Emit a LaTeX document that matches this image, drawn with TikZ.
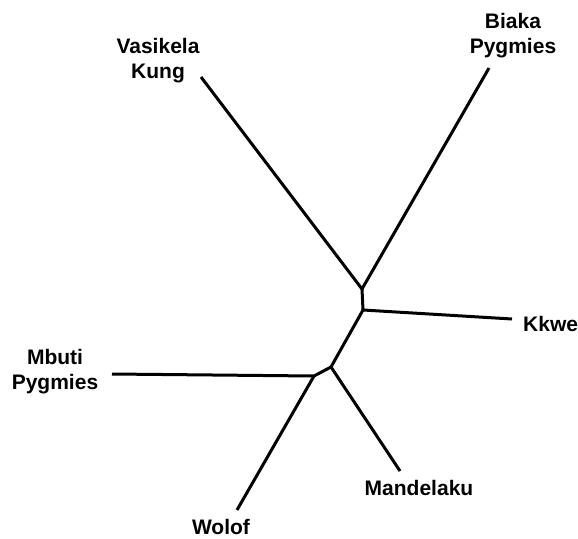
\documentclass[tikz,border=0pt]{standalone}
\usepackage{fontspec}
\setmainfont{Liberation Sans}
\usetikzlibrary{positioning}
\newcommand{\branchwidth}{3pt}

\begin{document}
\begin{tikzpicture}[x=1pt, y=-1pt,
    branch/.style={line width=\branchwidth, line join=round},
    taxon/.style={font=\bfseries\fontsize{21}{25}\selectfont, align=center, inner sep=0pt}]
            \useasboundingbox (0,0) rectangle (578,538);
            % inner forks
            \coordinate (upper) at (362,289);
            \coordinate (kfork) at (363,310);
            \coordinate (lower) at (331,367);
            \coordinate (mfork) at (314,376);
            % tips
            \coordinate (vktip) at (201,77);
            \coordinate (bptip) at (489,68);
            \coordinate (kktip) at (512,319);
            \coordinate (mdtip) at (400,471);
            \coordinate (wotip) at (237,510);
            \coordinate (mbtip) at (112,374);
            \node[taxon] (vasikela) at (158,61) {Vasikela\\Kung};
            \node[taxon] (biaka) at (513,36) {Biaka\\Pygmies};
            \node[taxon, anchor=west] (kkwe) at (523,324) {Kkwe};
            \node[taxon] (mbuti) at (55,372) {Mbuti\\Pygmies};
            \node[taxon] (mandelaku) at (419,488) {Mandelaku};
            \node[taxon] (wolof) at (221,527) {Wolof};
            \draw[branch] (vktip) -- (upper) -- (bptip);
            \draw[branch] (upper) -- (kfork) -- (kktip);
            \draw[branch] (kfork) -- (lower) -- (mdtip);
            \draw[branch] (lower) -- (mfork) -- (mbtip);
            \draw[branch] (mfork) -- (wotip);
        \end{tikzpicture}
\end{document}
